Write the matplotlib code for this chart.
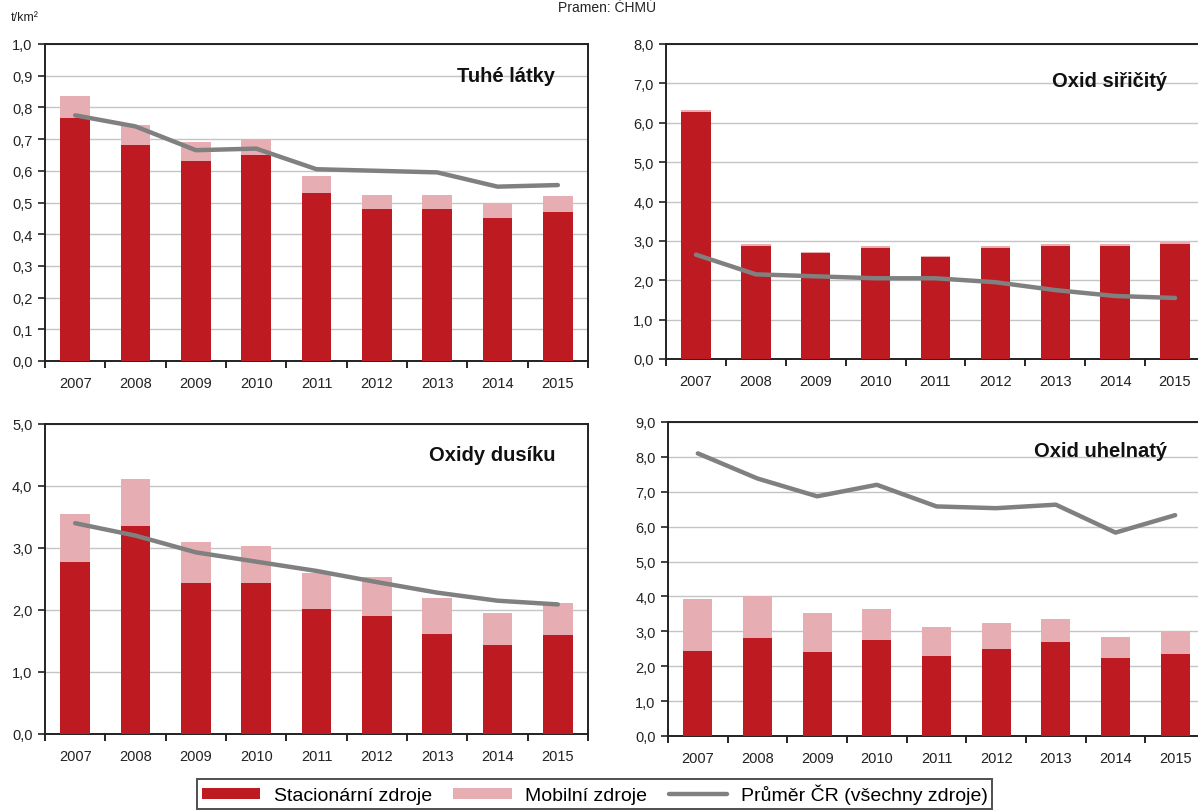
import numpy as np
import matplotlib
matplotlib.use("Agg")
import matplotlib.pyplot as plt
from matplotlib.ticker import FixedLocator, FuncFormatter

plt.rcParams['font.family'] = ['Liberation Sans', 'DejaVu Sans']

years = ['2007', '2008', '2009', '2010', '2011', '2012', '2013', '2014', '2015']

# Tuhe latky
tzl_stac = [0.765, 0.68, 0.63, 0.65, 0.53, 0.48, 0.48, 0.45, 0.47]
tzl_total = [0.835, 0.745, 0.69, 0.70, 0.585, 0.525, 0.525, 0.50, 0.52]
tzl_cr = [0.775, 0.74, 0.665, 0.67, 0.605, 0.60, 0.595, 0.55, 0.555]

# Oxid siricity
so2_stac = [6.28, 2.88, 2.68, 2.83, 2.58, 2.83, 2.88, 2.88, 2.93]
so2_total = [6.32, 2.91, 2.71, 2.86, 2.61, 2.86, 2.91, 2.91, 2.96]
so2_cr = [2.65, 2.15, 2.1, 2.05, 2.05, 1.95, 1.75, 1.6, 1.55]

# Oxidy dusiku
nox_stac = [2.78, 3.35, 2.43, 2.43, 2.01, 1.91, 1.62, 1.43, 1.59]
nox_total = [3.55, 4.12, 3.1, 3.04, 2.6, 2.53, 2.2, 1.95, 2.11]
nox_cr = [3.4, 3.2, 2.93, 2.78, 2.63, 2.45, 2.28, 2.15, 2.09]

# Oxid uhelnaty
co_stac = [2.45, 2.8, 2.4, 2.75, 2.3, 2.5, 2.68, 2.23, 2.35]
co_total = [3.92, 4.02, 3.53, 3.63, 3.13, 3.23, 3.35, 2.85, 3.0]
co_cr = [8.1, 7.38, 6.87, 7.2, 6.58, 6.53, 6.63, 5.83, 6.33]

RED = '#BE1A22'
PINK = '#E6AEB2'
GREY = '#808080'

W, H = 1198, 812
fig = plt.figure(figsize=(W / 100, H / 100), dpi=100)


def px_axes(left, top, right, bottom):
    return fig.add_axes([left / W, 1 - bottom / H, (right - left) / W, (bottom - top) / H])


def panel(ax, stac, total, cr, title, ymax, step, tpos):
    x = np.arange(len(years))
    mob = np.array(total) - np.array(stac)
    ax.bar(x, stac, width=0.49, color=RED, zorder=3, label='Stacionární zdroje')
    ax.bar(x, mob, bottom=stac, width=0.49, color=PINK, zorder=3, label='Mobilní zdroje')
    ax.plot(x, cr, color=GREY, lw=3.2, zorder=4, solid_capstyle='round',
            label='Průměr ČR (všechny zdroje)')
    ax.set_xlim(-0.5, len(years) - 0.5)
    ax.set_ylim(0, ymax)
    ax.set_yticks(np.arange(0, ymax + step / 2, step))
    ax.yaxis.set_major_formatter(FuncFormatter(lambda v, p: ('%.1f' % v).replace('.', ',')))
    ax.grid(axis='y', color='#C4C4C4', lw=1, zorder=0)
    ax.set_xticks(x)
    ax.set_xticklabels(years)
    ax.xaxis.set_minor_locator(FixedLocator(np.arange(-0.5, len(years), 1)))
    ax.tick_params(axis='x', which='major', length=0, pad=11, labelsize=10.5, colors='#222222')
    ax.tick_params(axis='x', which='minor', length=5, width=1.2, direction='out', color='black')
    ax.tick_params(axis='y', length=5, width=1.2, direction='out', labelsize=10.5,
                   colors='#222222', pad=4)
    for s in ax.spines.values():
        s.set_linewidth(1.4)
        s.set_color('#222222')
    ax.text(tpos[0], tpos[1], title, transform=ax.transAxes, ha='right', va='center',
            fontsize=14.5, fontweight='bold', color='#111111', zorder=5)


ax1 = px_axes(45, 45, 588, 362)
panel(ax1, tzl_stac, tzl_total, tzl_cr, 'Tuhé látky', 1.0, 0.1, (0.94, 0.9))
ax2 = px_axes(666, 45, 1205, 360)
panel(ax2, so2_stac, so2_total, so2_cr, 'Oxid siřičitý', 8.0, 1.0, (0.93, 0.885))
ax3 = px_axes(45, 425, 588, 735)
panel(ax3, nox_stac, nox_total, nox_cr, 'Oxidy dusíku', 5.0, 1.0, (0.94, 0.9))
ax4 = px_axes(668, 423, 1205, 737)
panel(ax4, co_stac, co_total, co_cr, 'Oxid uhelnatý', 9.0, 1.0, (0.93, 0.91))

fig.text(25 / W, 1 - 18 / H, 't/km²', fontsize=9, color='#222222', va='center', ha='center')
fig.text(607 / W, 1 - 1 / H, 'Pramen: ČHMÚ', fontsize=10, color='#222222', ha='center',
         va='top')

handles, labels = ax1.get_legend_handles_labels()
order = [1, 2, 0]
leg = fig.legend([handles[i] for i in order], [labels[i] for i in order],
                 loc='upper left', bbox_to_anchor=(197 / W, 1 - 780 / H),
                 ncol=3, fontsize=14, frameon=True, fancybox=False,
                 edgecolor='#222222', handlelength=3.0, handleheight=0.55,
                 handletextpad=0.7, columnspacing=1.1, borderpad=0.25,
                 borderaxespad=0)
leg.get_frame().set_linewidth(1.4)

fig.savefig('out.png', dpi=100)
